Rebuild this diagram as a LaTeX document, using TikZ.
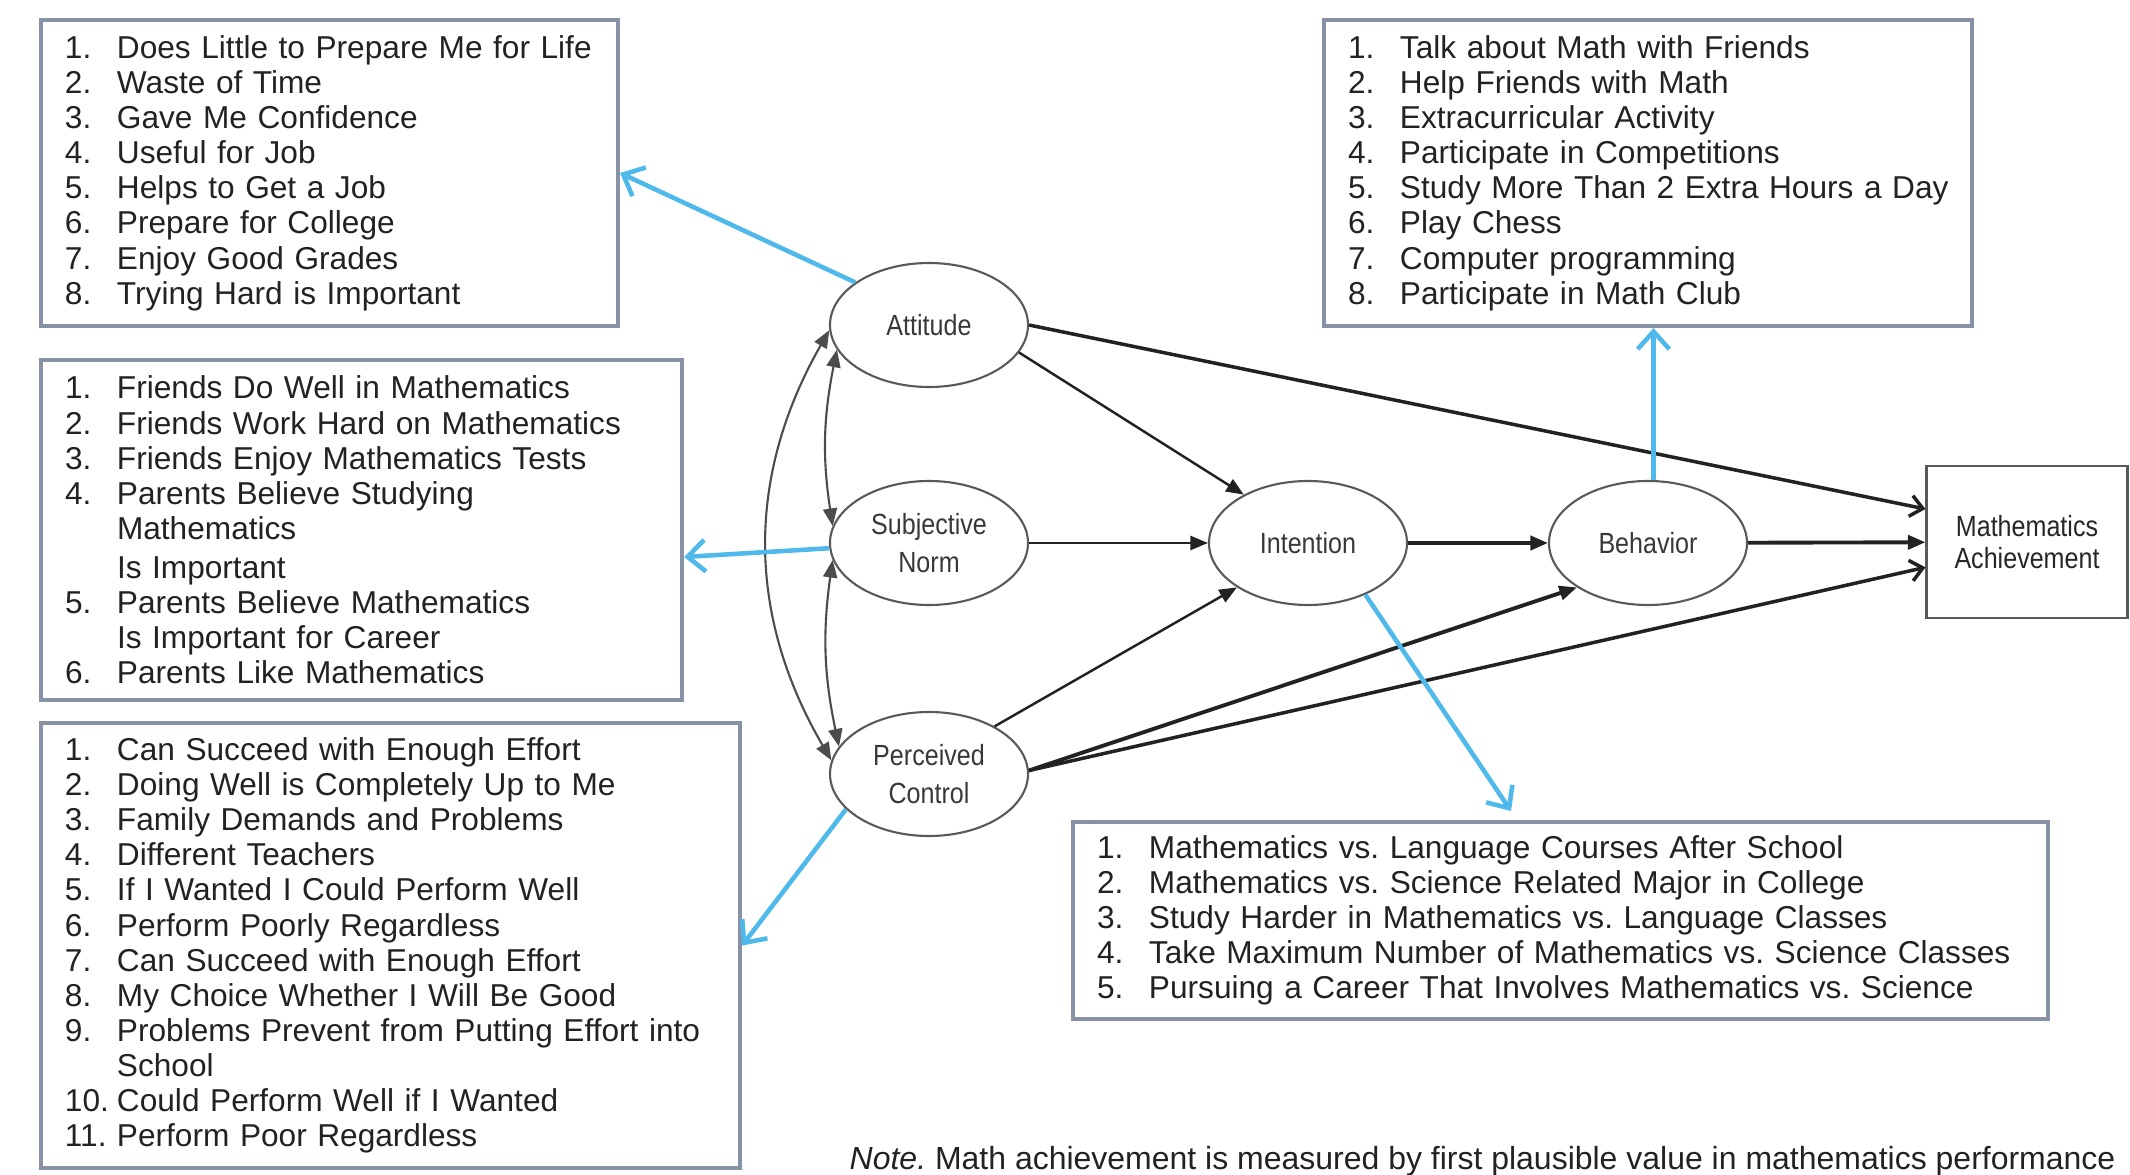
\documentclass[tikz,border=0pt]{standalone}
\usepackage{fontspec}
\setmainfont{Liberation Sans}
\newfontfamily\narrowfont[FakeStretch=0.86]{Liberation Sans}
\usetikzlibrary{shapes.geometric,arrows.meta}
\definecolor{frame}{RGB}{135,146,166}
\definecolor{sky}{RGB}{80,185,235}
\definecolor{ink}{RGB}{34,34,34}
\frenchspacing
\newcommand{\itm}[2]{\mbox{\makebox[0.52cm][l]{#1}#2}}
\newcommand{\lfont}{\fontsize{9}{10}\selectfont}
\newcommand{\efont}{\narrowfont\fontsize{8.3}{10.8}\selectfont}

\begin{document}
\begin{tikzpicture}[
	list/.style={draw=frame, line width=1.2pt, inner xsep=0.24cm, align=left, font=\lfont, text=ink},
	latent/.style={draw=black!65, line width=0.6pt, ellipse, minimum width=1.98cm, minimum height=1.24cm, inner sep=0pt, align=center, font=\efont, text=black!78},
	reg/.style={draw=ink, line width=0.7pt, -{Triangle[length=5pt,width=4pt]}},
	opentip/.style={draw=ink, line width=1pt, -{Straight Barb[length=3.5pt,width=6pt]}},
	cov/.style={draw=black!70, line width=0.6pt, {Triangle[length=5pt,width=4pt]}-{Triangle[length=5pt,width=4pt]}},
	link/.style={draw=sky, line width=1.3pt, -{Straight Barb[length=5pt,width=9pt]}}
	]
	\useasboundingbox (0,0) rectangle (21.3,-11.75);
	\node [list, text width=5.29cm, minimum height=3.06cm] (LA) at (3.295,-1.73) {
		\itm{1.}{Does Little to Prepare Me for Life}\\
		\itm{2.}{Waste of Time}\\
		\itm{3.}{Gave Me Confidence}\\
		\itm{4.}{Useful for Job}\\
		\itm{5.}{Helps to Get a Job}\\
		\itm{6.}{Prepare for College}\\
		\itm{7.}{Enjoy Good Grades}\\
		\itm{8.}{Trying Hard is Important}};
	\node [list, text width=5.93cm, minimum height=3.40cm] (LS) at (3.615,-5.30) {
		\itm{1.}{Friends Do Well in Mathematics}\\
		\itm{2.}{Friends Work Hard on Mathematics}\\
		\itm{3.}{Friends Enjoy Mathematics Tests}\\
		\itm{4.}{Parents Believe Studying}\\
		\itm{}{Mathematics}\\[1pt]
		\itm{}{Is Important}\\
		\itm{5.}{Parents Believe Mathematics}\\
		\itm{}{Is Important for Career}\\
		\itm{6.}{Parents Like Mathematics}};
	\node [list, text width=6.51cm, minimum height=4.45cm] (LP) at (3.905,-9.455) {
		\itm{1.}{Can Succeed with Enough Effort}\\
		\itm{2.}{Doing Well is Completely Up to Me}\\
		\itm{3.}{Family Demands and Problems}\\
		\itm{4.}{Different Teachers}\\
		\itm{5.}{If I Wanted I Could Perform Well}\\
		\itm{6.}{Perform Poorly Regardless}\\
		\itm{7.}{Can Succeed with Enough Effort}\\
		\itm{8.}{My Choice Whether I Will Be Good}\\
		\itm{9.}{Problems Prevent from Putting Effort into}\\
		\itm{}{School}\\
		\itm{10.}{Could Perform Well if I Wanted}\\
		\itm{11.}{Perform Poor Regardless}};
	\node [list, text width=6.00cm, minimum height=3.06cm] (LB) at (16.48,-1.73) {
		\itm{1.}{Talk about Math with Friends}\\
		\itm{2.}{Help Friends with Math}\\
		\itm{3.}{Extracurricular Activity}\\
		\itm{4.}{Participate in Competitions}\\
		\itm{5.}{Study More Than 2 Extra Hours a Day}\\
		\itm{6.}{Play Chess}\\
		\itm{7.}{Computer programming}\\
		\itm{8.}{Participate in Math Club}};
	\node [list, text width=9.27cm, minimum height=1.97cm] (LI) at (15.605,-9.205) {
		\itm{1.}{Mathematics vs. Language Courses After School}\\
		\itm{2.}{Mathematics vs. Science Related Major in College}\\
		\itm{3.}{Study Harder in Mathematics vs. Language Classes}\\
		\itm{4.}{Take Maximum Number of Mathematics vs. Science Classes}\\
		\itm{5.}{Pursuing a Career That Involves Mathematics vs. Science}};
	\node [latent] (Att) at (9.29,-3.25) {Attitude};
	\node [latent] (Sub) at (9.29,-5.43) {Subjective\\Norm};
	\node [latent] (Per) at (9.29,-7.74) {Perceived\\Control};
	\node [latent] (Int) at (13.08,-5.43) {Intention};
	\node [latent] (Beh) at (16.48,-5.43) {Behavior};
	\node [draw=black!65, line width=0.6pt, minimum width=2.01cm, minimum height=1.52cm, align=center, font=\narrowfont\fontsize{8.3}{8.9}\selectfont, text=black!85] (Ach) at (20.27,-5.42) {Mathematics\\Achievement};
	\node [anchor=west, font=\fontsize{9.1}{10}\selectfont, text=ink, inner sep=0pt] (NT) at (8.49,-11.61) {\textit{Note.} Math achievement is measured by first plausible value in mathematics performance};
	\coordinate (IT) at (15.11,-8.11);
	\draw [reg] (Att.343) -- (Int.143);
	\draw [opentip] (Att.east) -- (Ach.162);
	\draw [reg] (Sub) -- (Int);
	\draw [reg] (Per.36) -- (Int.212);
	\draw [reg, line width=1.1pt] (Per.2) -- (Beh.212);
	\draw [opentip] (Per.2) -- (Ach.194);
	\draw [reg, line width=1.1pt] (Int) -- (Beh);
	\draw [reg, line width=1.1pt] (Beh) -- (Ach);
	\draw [cov] (Att.183) to [bend right=30] (Per.172);
	\draw [cov] (Att.195) to [bend right=10] (Sub.170);
	\draw [cov] (Sub.190) to [bend right=10] (Per.163);
	\draw [link] (Att.150) -- (LA.east);
	\draw [link] (Sub.183) -- ([yshift=-0.27cm]LS.east);
	\draw [link] (Per.203) -- (LP.east);
	\draw [link] (Beh.85) -- (Beh.85 |- LB.south);
	\draw [link] (Int.318) -- (IT);
\end{tikzpicture}
\end{document}
